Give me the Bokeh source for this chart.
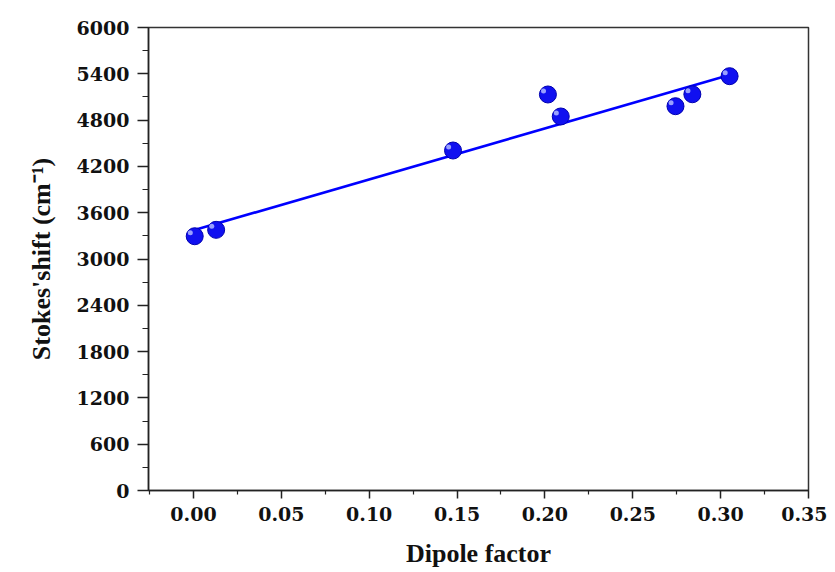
from bokeh.plotting import figure
from bokeh.models import FixedTicker, Range1d, NumeralTickFormatter
from bokeh.embed import file_html
from bokeh.resources import INLINE

# data
dipole = [0.0007, 0.0129, 0.1477, 0.2017, 0.2090, 0.2743, 0.2839, 0.3051]
stokes = [3295, 3378, 4406, 5132, 4847, 4980, 5135, 5369]
fit_x = [0.001, 0.305]
fit_y = [3378, 5385]
x_ticks = [0.00, 0.05, 0.10, 0.15, 0.20, 0.25, 0.30, 0.35]
y_ticks = [0, 600, 1200, 1800, 2400, 3000, 3600, 4200, 4800, 5400, 6000]

LABEL_FONT = "Liberation Serif"
TICK_FONT = "DejaVu Serif"

p = figure(frame_width=660, frame_height=463,
           min_border_left=148, min_border_right=19, min_border_top=27, min_border_bottom=80,
           x_range=Range1d(-0.0256, 0.35), y_range=Range1d(0, 6000),
           output_backend="svg", toolbar_location=None)

p.line(fit_x, fit_y, line_color="#0000ff", line_width=2.6)
p.scatter(dipole, stokes, marker="circle", size=17, fill_color="#1010f0",
          line_color="#0000b0", line_width=1)
hx = [v - 0.0025 for v in dipole]
hy = [v + 45 for v in stokes]
p.scatter(hx, hy, marker="circle", size=5, fill_color="#a8b0ff",
          line_color=None, fill_alpha=0.9)

p.xgrid.visible = False
p.ygrid.visible = False
p.outline_line_color = "#333333"
p.outline_line_width = 1.5
p.background_fill_color = "white"
p.border_fill_color = "white"

p.xaxis.ticker = FixedTicker(ticks=x_ticks,
                             minor_ticks=[0.025 + 0.05 * i for i in range(-1, 7)])
p.yaxis.ticker = FixedTicker(ticks=y_ticks,
                             minor_ticks=[300 + 600 * i for i in range(10)])
p.xaxis.formatter = NumeralTickFormatter(format="0.00")

for ax in (p.xaxis, p.yaxis):
    ax.axis_line_color = "#222222"
    ax.axis_line_width = 1.5
    ax.major_tick_line_color = "#222222"
    ax.major_tick_line_width = 1.5
    ax.minor_tick_line_color = "#222222"
    ax.minor_tick_line_width = 1.2
    ax.major_tick_in = 0
    ax.minor_tick_in = 0
    ax.major_label_text_font = TICK_FONT
    ax.major_label_text_font_style = "bold"
    ax.major_label_text_font_size = "19px"
    ax.major_label_text_color = "#111111"
    ax.axis_label_text_font = LABEL_FONT
    ax.axis_label_text_font_style = "bold"
    ax.axis_label_text_font_size = "26px"
    ax.axis_label_text_color = "#111111"

p.xaxis.major_tick_out = 8
p.xaxis.minor_tick_out = 4
p.yaxis.major_tick_out = 11
p.yaxis.minor_tick_out = 6

p.xaxis.axis_label = "Dipole factor"
p.yaxis.axis_label = "Stokes'shift (cm\u207b\u00b9)"
p.xaxis.major_label_standoff = 8
p.yaxis.major_label_standoff = 8
p.xaxis.axis_label_standoff = 15
p.yaxis.axis_label_standoff = 18

open("out.html", "w").write(file_html(p, INLINE))
